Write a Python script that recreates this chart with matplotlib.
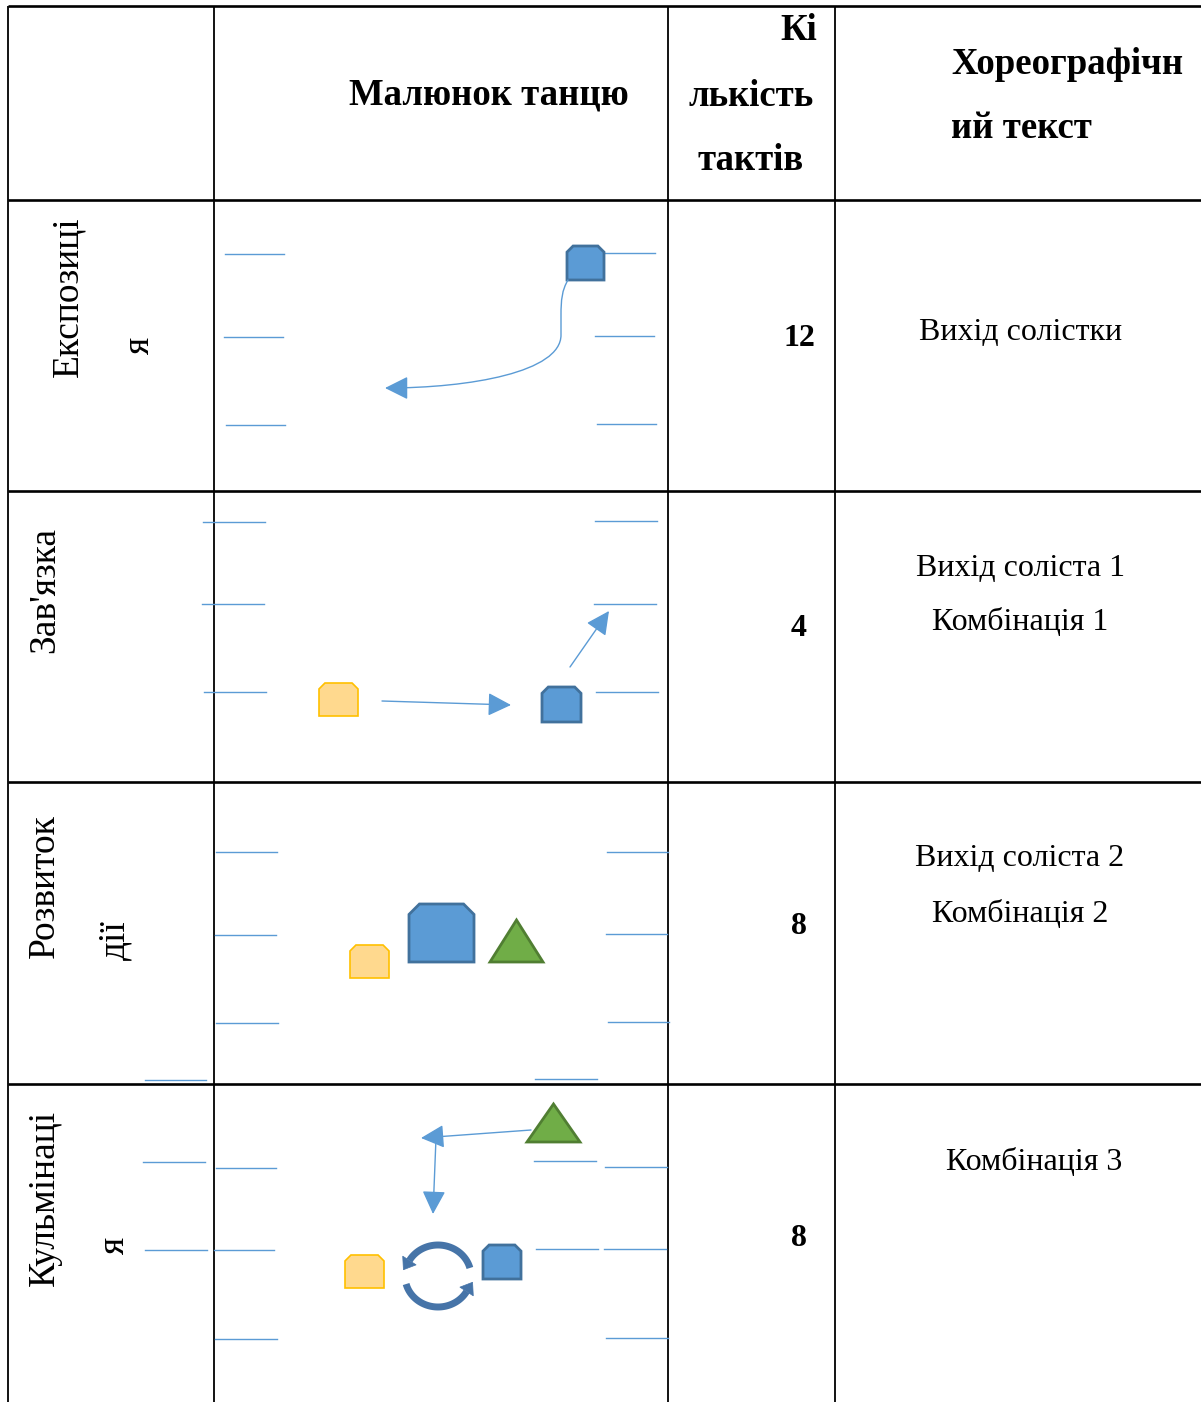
import matplotlib
matplotlib.use("Agg")
import matplotlib.pyplot as plt
from matplotlib.patches import Polygon, FancyArrowPatch
from matplotlib.path import Path
import numpy as np

# ---------------- data ----------------
header_col2 = "Малюнок танцю"
header_col3 = ["Кі", "лькість", "тактів"]
header_col4 = ["Хореографічн", "ий текст"]
section_lines = [["Експозиці", "я"], ["Зав'язка"], ["Розвиток", "дії"], ["Кульмінаці", "я"]]
bar_counts = ["12", "4", "8", "8"]
chor_text = [["Вихід солістки"], ["Вихід соліста 1", "Комбінація 1"],
             ["Вихід соліста 2", "Комбінація 2"], ["Комбінація 3"]]

# ---------------- layout ----------------
W, H = 1201, 1402
col_x = [8, 214, 668, 835]
row_y = [6, 200, 491, 782, 1084]

BLUE_LINE = "#5B9BD5"
BLUE_FILL, BLUE_EDGE = "#5B9BD5", "#41719C"
YEL_FILL, YEL_EDGE = "#FFD98E", "#FFC000"
GRN_FILL, GRN_EDGE = "#70AD47", "#507E32"
CIRC = "#4674A8"

SERIF = ["Liberation Serif", "DejaVu Serif"]
HFS = 26.5   # header font size
BFS = 23     # body font size
RFS = 27     # rotated labels

fig = plt.figure(figsize=(W / 100, H / 100), dpi=100)
ax = fig.add_axes([0, 0, 1, 1])
ax.set_xlim(0, W)
ax.set_ylim(H, 0)
ax.axis("off")

# table grid
for y in row_y:
    ax.plot([col_x[0], W], [y, y], color="black", lw=1.9, solid_capstyle="butt")
for x in col_x:
    ax.plot([x, x], [row_y[0], H], color="black", lw=1.3, solid_capstyle="butt")

# header
ax.text(489, 95, header_col2, fontsize=HFS, fontweight="bold", family=SERIF, ha="center", va="center")
ax.text(817, 31, header_col3[0], fontsize=HFS, fontweight="bold", family=SERIF, ha="right", va="center")
ax.text(751, 96, header_col3[1], fontsize=HFS, fontweight="bold", family=SERIF, ha="center", va="center")
ax.text(751, 160, header_col3[2], fontsize=HFS, fontweight="bold", family=SERIF, ha="center", va="center")
ax.text(951, 64, header_col4[0], fontsize=HFS, fontweight="bold", family=SERIF, ha="left", va="center")
ax.text(951, 129, header_col4[1], fontsize=HFS, fontweight="bold", family=SERIF, ha="left", va="center")

# section labels (rotated)
sec_pos = [[(68, 297), (140, 345)], [(45, 590)], [(45, 886), (115, 940)], [(45, 1198), (115, 1245)]]
for lines, poss in zip(section_lines, sec_pos):
    for t, (x, y) in zip(lines, poss):
        ax.text(x, y, t, fontsize=RFS, family=SERIF, rotation=90, ha="center", va="center")

# bar counts
num_y = [339, 629, 926, 1239]
for t, y in zip(bar_counts, num_y):
    ax.text(799, y, t, fontsize=BFS, fontweight="bold", family=SERIF, ha="center", va="center")

# choreographic text
chor_pos = [[(1021, 332)], [(1020, 568), (1020, 623)], [(1020, 859), (1020, 914)], [(1034, 1162)]]
for lines, poss in zip(chor_text, chor_pos):
    for t, (x, y) in zip(lines, poss):
        ax.text(x, y, t, fontsize=BFS, family=SERIF, ha="center", va="center")

# guide segments
segs = [
    (225, 284, 254), (224, 283, 337), (226, 285, 425),
    (604, 655, 253), (595, 654, 336), (597, 656, 424),
    (203, 265, 522), (202, 264, 604), (204, 266, 692),
    (595, 657, 521), (594, 656, 604), (596, 658, 692),
    (216, 277, 852), (215, 276, 935), (216, 278, 1023), (145, 206, 1080),
    (607, 668, 852), (606, 667, 934), (608, 669, 1022), (535, 597, 1079),
    (143, 205, 1162), (216, 276, 1168), (145, 207, 1250), (214, 274, 1250), (215, 277, 1339),
    (534, 596, 1161), (605, 667, 1167), (536, 598, 1249), (604, 666, 1249), (606, 668, 1338),
]
for x0, x1, y in segs:
    ax.plot([x0, x1], [y, y], color=BLUE_LINE, lw=1.0)


def snip(x0, y0, x1, y1, fc, ec, lw=2.0):
    s = 0.18 * min(x1 - x0, y1 - y0)
    pts = [(x0, y1), (x0, y0 + s), (x0 + s, y0), (x1 - s, y0), (x1, y0 + s), (x1, y1)]
    ax.add_patch(Polygon(pts, closed=True, fc=fc, ec=ec, lw=lw, zorder=3))


def tri(x0, y0, x1, y1):
    pts = [(x0, y1), ((x0 + x1) / 2, y0), (x1, y1)]
    ax.add_patch(Polygon(pts, closed=True, fc=GRN_FILL, ec=GRN_EDGE, lw=2.0, zorder=3))


# shapes
snip(567, 246, 604, 280, BLUE_FILL, BLUE_EDGE)
snip(319, 683, 358, 716, YEL_FILL, YEL_EDGE, 1.2)
snip(542, 687, 581, 722, BLUE_FILL, BLUE_EDGE)
snip(350, 945, 389, 978, YEL_FILL, YEL_EDGE, 1.2)
snip(409, 904, 474, 962, BLUE_FILL, BLUE_EDGE)
tri(490, 920, 543, 962)
tri(527, 1104, 580, 1142)
snip(345, 1255, 384, 1288, YEL_FILL, YEL_EDGE, 1.2)
snip(483, 1245, 521, 1279, BLUE_FILL, BLUE_EDGE)


def arrow_path(verts, codes, ms=16, lw=1.0, color=BLUE_LINE):
    p = FancyArrowPatch(path=Path(verts, codes), arrowstyle="-|>,head_length=0.9,head_width=0.45",
                        mutation_scale=ms, lw=lw, color=color, zorder=4)
    ax.add_patch(p)


# row 1 curve
arrow_path([(568, 280), (562, 290), (561, 300), (561, 315), (561, 335),
            (561, 372), (470, 388), (385, 388)],
           [Path.MOVETO, Path.CURVE4, Path.CURVE4, Path.CURVE4, Path.LINETO,
            Path.CURVE4, Path.CURVE4, Path.CURVE4])
# row 2
arrow_path([(382, 701), (511, 705)], [Path.MOVETO, Path.LINETO])
arrow_path([(570, 667), (609, 611)], [Path.MOVETO, Path.LINETO])
# row 4
arrow_path([(531, 1130), (421, 1138)], [Path.MOVETO, Path.LINETO])
arrow_path([(436, 1138), (433, 1214)], [Path.MOVETO, Path.LINETO])

# circular arrows: thick arc + separate triangular head
cx, cy, rx, ry = 438, 1276, 33, 31


def arc_pt(deg):
    t = np.radians(deg)
    return np.array([cx + rx * np.cos(t), cy - ry * np.sin(t)])


def circ_arrow(a0, a1):
    angs = np.linspace(a0, a1, 50)
    pts = np.array([arc_pt(a) for a in angs])
    ax.plot(pts[:, 0], pts[:, 1], color=CIRC, lw=5.0, solid_capstyle="butt", zorder=4)
    end = pts[-1]
    d = pts[-1] - pts[-2]
    d = d / np.linalg.norm(d)
    n = np.array([-d[1], d[0]])
    L, Wd = 11, 8
    head = [end + d * L, end + n * Wd, end - n * Wd]
    ax.add_patch(Polygon(head, closed=True, fc=CIRC, ec=CIRC, lw=0.5, zorder=4))


circ_arrow(15, 150)
circ_arrow(195, 330)

fig.savefig("out.png", dpi=100, facecolor="white")
